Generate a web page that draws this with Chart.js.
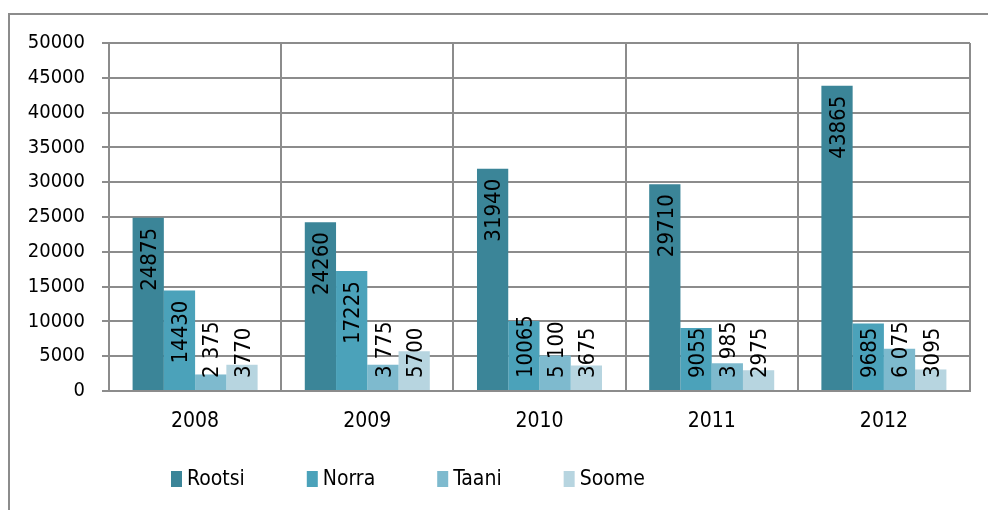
<!DOCTYPE html>
<html>
<head>
<meta charset="utf-8">
<script src="https://cdn.jsdelivr.net/npm/chart.js@4/dist/chart.umd.min.js"></script>
<style>
    body { margin: 0; background: #fff; }
    canvas { display: block; }
</style>
</head>
<body>
<canvas id="exportChart" width="988" height="510"></canvas>
<script>
const years = ['2008', '2009', '2010', '2011', '2012'];
const rootsi = [24875, 24260, 31940, 29710, 43865];
const norra = [14430, 17225, 10065, 9055, 9685];
const taani = [2375, 3775, 5100, 3985, 6075];
const soome = [3770, 5700, 3675, 2975, 3095];
const yTicks = [0, 5000, 10000, 15000, 20000, 25000, 30000, 35000, 40000, 45000, 50000];

const gridColor = '#8c8c8c';
const fontFamily = '"DejaVu Sans Condensed", Lato, sans-serif';

// Taani labels were written with a space as thousands separator
function spaced(v) {
    return String(v).replace(/\B(?=(\d{3})+(?!\d))/g, ' ');
}

const frame = {
    id: 'frame',
    beforeDraw(chart) {
        const ctx = chart.ctx;
        ctx.save();
        ctx.strokeStyle = gridColor;
        ctx.lineWidth = 2;
        ctx.beginPath();
        ctx.moveTo(9, 510);
        ctx.lineTo(9, 14);
        ctx.lineTo(988, 14);
        ctx.stroke();
        ctx.restore();
    }
};

const barLabels = {
    id: 'barLabels',
    afterDatasetsDraw(chart) {
        const ctx = chart.ctx;
        ctx.save();
        ctx.font = '22px ' + fontFamily;
        ctx.fillStyle = '#000';
        ctx.textAlign = 'right';
        ctx.textBaseline = 'middle';
        chart.data.datasets.forEach(function (ds, i) {
            const meta = chart.getDatasetMeta(i);
            meta.data.forEach(function (bar, j) {
                const text = ds.spaced ? spaced(ds.data[j]) : String(ds.data[j]);
                const w = ctx.measureText(text).width;
                let top = bar.y + 10;
                if (top + w > bar.base - 12) {
                    top = bar.base - 12 - w;
                }
                ctx.save();
                ctx.translate(bar.x + 2, top);
                ctx.rotate(-Math.PI / 2);
                ctx.fillText(text, 0, 0);
                ctx.restore();
            });
        });
        ctx.restore();
    }
};

const bottomLegend = {
    id: 'bottomLegend',
    afterDraw(chart) {
        const ctx = chart.ctx;
        ctx.save();
        ctx.font = '21px ' + fontFamily;
        ctx.textBaseline = 'middle';
        ctx.textAlign = 'left';
        let x = 171;
        chart.data.datasets.forEach(function (ds) {
            ctx.fillStyle = ds.backgroundColor;
            ctx.fillRect(x, 471, 11, 16);
            ctx.fillStyle = '#000';
            ctx.fillText(ds.label, x + 16, 480);
            x += 16 + ctx.measureText(ds.label).width + 62;
        });
        ctx.restore();
    }
};

document.addEventListener('DOMContentLoaded', function () {
    const el = document.getElementById('exportChart');

    new Chart(el.getContext('2d'), {
        type: 'bar',
        data: {
            labels: years,
            datasets: [
                { label: 'Rootsi', data: rootsi, backgroundColor: '#3b8598' },
                { label: 'Norra', data: norra, backgroundColor: '#4ba2ba' },
                { label: 'Taani', data: taani, backgroundColor: '#7ebace', spaced: true },
                { label: 'Soome', data: soome, backgroundColor: '#b7d5e0' }
            ]
        },
        options: {
            responsive: false,
            animation: false,
            categoryPercentage: 0.726,
            barPercentage: 1,
            layout: {
                padding: { top: 43, right: 18, left: 0, bottom: 0 }
            },
            plugins: {
                legend: { display: false },
                tooltip: { enabled: false }
            },
            scales: {
                x: {
                    grid: {
                        color: gridColor,
                        lineWidth: 2,
                        offset: true,
                        drawTicks: false
                    },
                    border: { color: gridColor, width: 2 },
                    ticks: {
                        color: '#000',
                        padding: 18,
                        font: { family: fontFamily, size: 21 }
                    },
                    afterFit(scale) {
                        scale.height = 119;
                    }
                },
                y: {
                    min: 0,
                    max: 50000,
                    afterBuildTicks(scale) {
                        scale.ticks = yTicks.map(v => ({ value: v }));
                    },
                    grid: {
                        color: gridColor,
                        lineWidth: 2,
                        tickLength: 7
                    },
                    border: { color: gridColor, width: 2 },
                    ticks: {
                        color: '#000',
                        padding: 17,
                        font: { family: fontFamily, size: 20 },
                        callback: v => String(v)
                    },
                    afterFit(scale) {
                        scale.width = 109;
                    }
                }
            }
        },
        plugins: [frame, barLabels, bottomLegend]
    });
});
</script>
</body>
</html>
